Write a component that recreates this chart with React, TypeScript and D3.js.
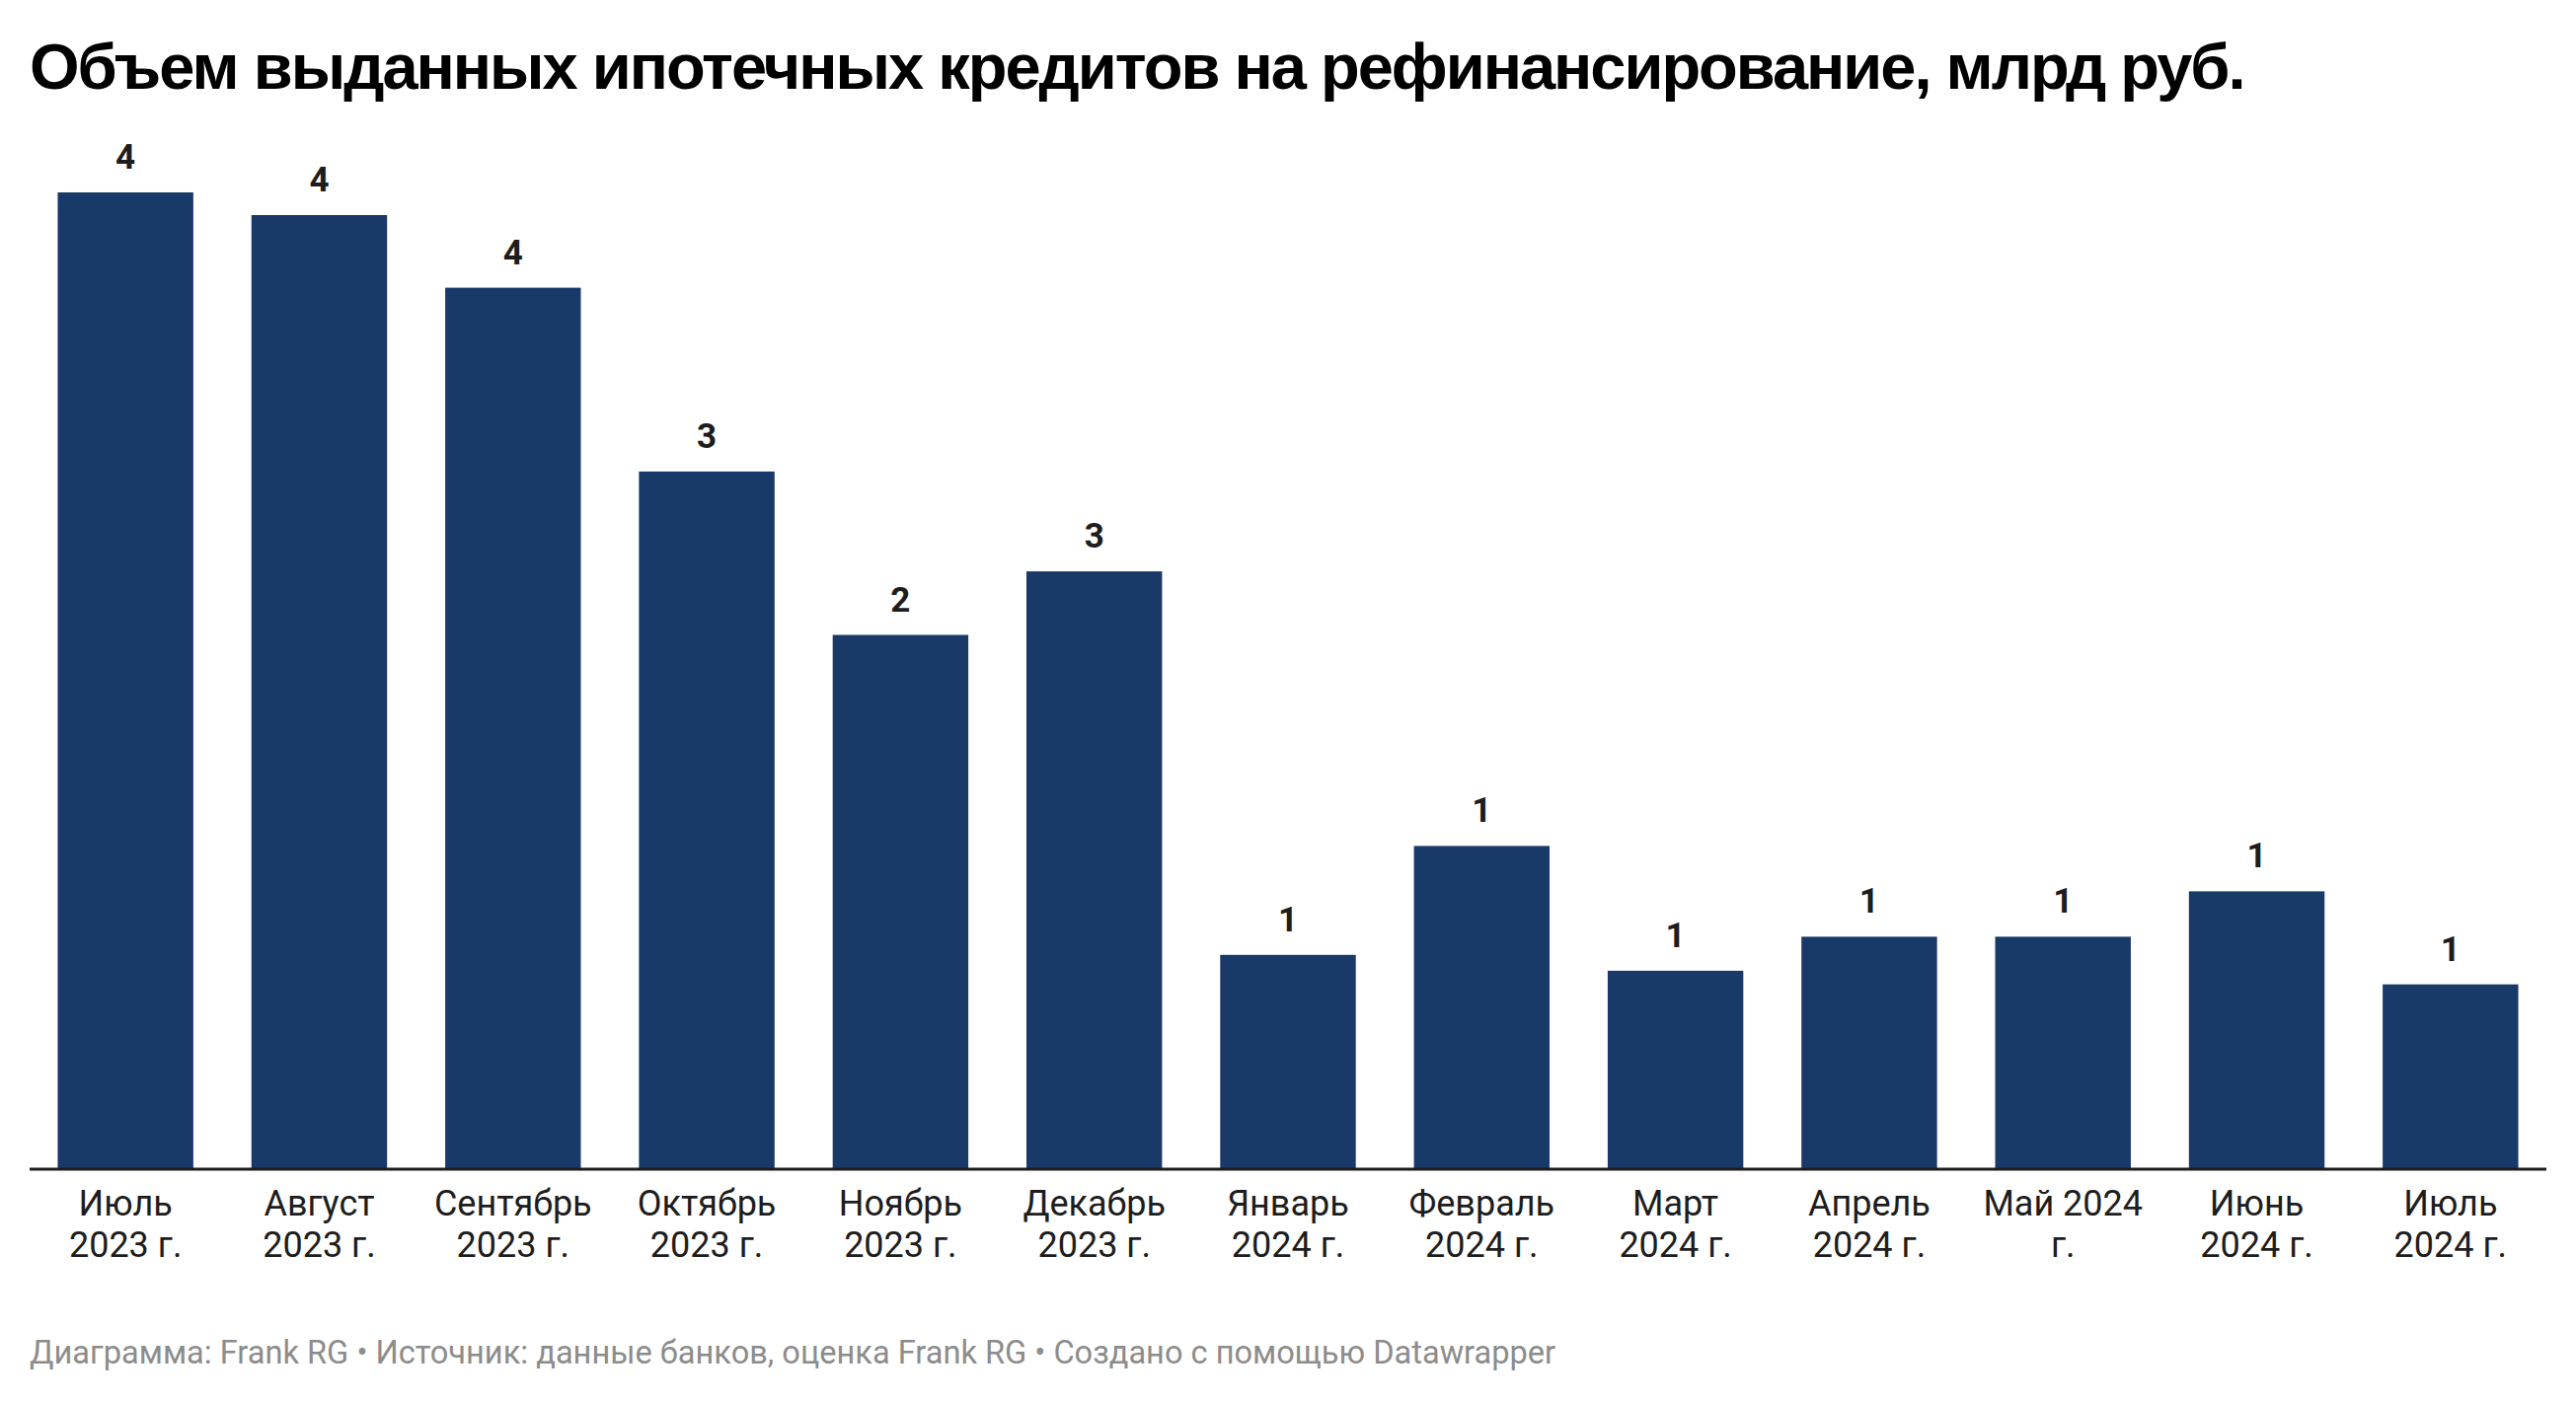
import React from "react";
import * as d3 from "d3";

const categories = [
  "Июль\n2023 г.",
  "Август\n2023 г.",
  "Сентябрь\n2023 г.",
  "Октябрь\n2023 г.",
  "Ноябрь\n2023 г.",
  "Декабрь\n2023 г.",
  "Январь\n2024 г.",
  "Февраль\n2024 г.",
  "Март\n2024 г.",
  "Апрель\n2024 г.",
  "Май 2024\nг.",
  "Июнь\n2024 г.",
  "Июль\n2024 г.",
];
const values = [4.3, 4.2, 3.88, 3.07, 2.35, 2.63, 0.94, 1.42, 0.87, 1.02, 1.02, 1.22, 0.81];

const title = "Объем выданных ипотечных кредитов на рефинансирование, млрд руб.";
const footer = "Диаграмма: Frank RG • Источник: данные банков, оценка Frank RG • Создано с помощью Datawrapper";

const W = 2610;
const H = 1422;
const BAR_COLOR = "#193968";

export default function App() {
  const x = d3
    .scaleBand<number>()
    .domain(d3.range(values.length))
    .range([30, 2580])
    .paddingInner(0.3)
    .paddingOuter(0.145);
  const y = d3.scaleLinear().domain([0, d3.max(values) as number]).range([1184, 195]);
  const fmt = d3.format(".0f");

  return (
    <div style={{ position: "absolute", left: 0, top: 0 }}>
      <svg width={W} height={H} style={{ display: "block", background: "#fff" }}>
        <text x={30} y={90} fontFamily="'Liberation Sans', Arial, sans-serif" fontWeight={700} fontSize={65} fill="#000" letterSpacing={-2.0}>
          {title}
        </text>
        {values.map((v, i) => (
          <g key={i}>
            <rect x={x(i)} y={y(v)} width={x.bandwidth()} height={y(0) - y(v)} fill={BAR_COLOR} />
            <text
              x={(x(i) as number) + x.bandwidth() / 2}
              y={y(v) - 24}
              textAnchor="middle"
              fontFamily="Roboto, sans-serif"
              fontWeight={700}
              fontSize={35}
              fill="#1d1d1d"
            >
              {fmt(v)}
            </text>
            {categories[i].split("\n").map((line, j) => (
              <text
                key={j}
                x={(x(i) as number) + x.bandwidth() / 2}
                y={1232 + j * 42}
                textAnchor="middle"
                fontFamily="Roboto, sans-serif"
                fontSize={36}
                fill="#1d1d1d"
              >
                {line}
              </text>
            ))}
          </g>
        ))}
        <line x1={30} x2={2580} y1={1185} y2={1185} stroke="#1d1d1d" strokeWidth={3} />
        <text x={30} y={1382} fontFamily="Roboto, sans-serif" fontSize={32.6} fill="#8c8c8c">
          {footer}
        </text>
      </svg>
    </div>
  );
}
